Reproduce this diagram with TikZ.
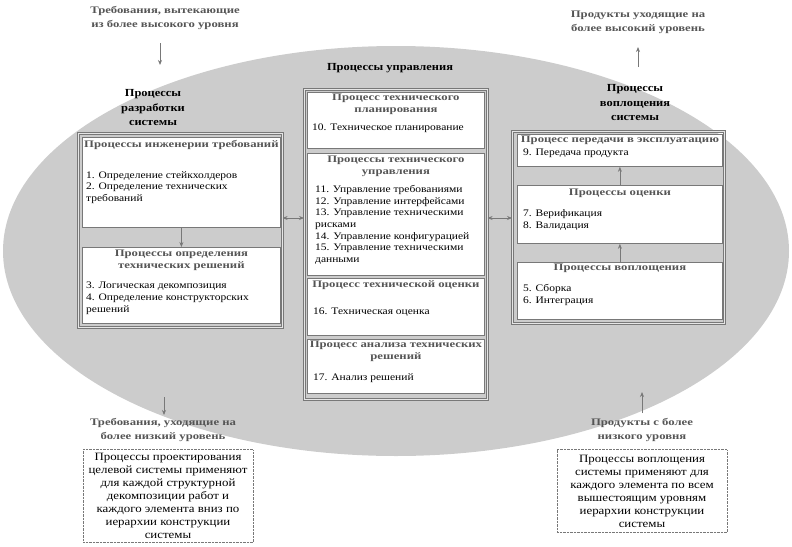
\documentclass[tikz,border=0pt]{standalone}
\usepackage{fontspec}
\setmainfont{Liberation Serif}[FakeStretch=1.15]
\newfontfamily\headfont{Liberation Serif}[FakeStretch=1.27]
\usetikzlibrary{positioning,arrows.meta}
\definecolor{ovalgray}{RGB}{204,204,204}
\definecolor{framegray}{RGB}{120,120,120}
\definecolor{headgray}{RGB}{85,85,85}
\tikzset{
  frame/.style={draw=framegray,double=ovalgray!50!white,double distance=1.2pt,line width=0.6pt,inner sep=0pt,anchor=north west},
  procbox/.style={draw=framegray,fill=white,line width=0.8pt,inner sep=0pt,anchor=north west},
  boxtitle/.style={font=\headfont\bfseries\fontsize{10}{12}\selectfont,text=headgray,align=center,anchor=north,inner sep=1pt},
  boxitems/.style={font=\fontsize{10}{11.7}\selectfont,align=left,anchor=north west,inner sep=0pt},
  grouptitle/.style={font=\bfseries\fontsize{10.8}{14.5}\selectfont,align=center},
  outtext/.style={font=\headfont\bfseries\fontsize{10}{14}\selectfont,text=headgray,align=center},
  notebox/.style={draw=framegray,densely dotted,fill=white,font=\fontsize{11.2}{13}\selectfont,align=center,inner sep=0pt},
  flow/.style={-{Stealth[length=5pt,width=4pt]},framegray,line width=0.8pt},
  twoway/.style={{Stealth[length=5pt,width=4pt]}-{Stealth[length=5pt,width=4pt]},framegray,line width=0.8pt},
}
\begin{document}
\begin{tikzpicture}[x=1pt,y=-1pt]
  \useasboundingbox (0,0) rectangle (792,546);

  % большой овал
  \fill[ovalgray] (396,251) ellipse [x radius=393, y radius=205];

  % входы и выходы сверху
  \node[outtext] (reqin) at (165,18) {Требования, вытекающие\\из более высокого уровня};
  \node[outtext] (prodout) at (638,22) {Продукты уходящие на\\более высокий уровень};
  \coordinate (reqin-end) at (160,65);
  \coordinate (prodout-end) at (638,47);
  \draw[flow] (reqin-end |- 0,43) -- (reqin-end);
  \draw[flow] (prodout-end |- 0,67) -- (prodout-end);

  % заголовки групп
  \node[grouptitle] (devtitle) at (153,108) {Процессы\\разработки\\системы};
  \node[grouptitle] (ctrtitle) at (390,68) {Процессы управления};
  \node[grouptitle] (impltitle) at (635,103) {Процессы\\воплощения\\системы};

  % процессы разработки
  \node[frame,minimum width=204,minimum height=194] (devframe) at (78,133) {};
  \node[procbox,minimum width=198,minimum height=90] (req) at (82,137) {};
  \node[procbox,minimum width=198,minimum height=76] (sol) at (82,247) {};
  \node[boxtitle] (reqhead) at ([yshift=-2pt]req.north) {Процессы инженерии требований};
  \node[boxitems] (reqlist) at ([xshift=4pt,yshift=-34pt]req.north west)
    {1. Определение стейкхолдеров\\2. Определение технических\\требований};
  \node[boxtitle] (solhead) at ([yshift=-2pt]sol.north) {Процессы определения\\технических решений};
  \node[boxitems] (sollist) at ([xshift=4pt,yshift=-35pt]sol.north west)
    {3. Логическая декомпозиция\\4. Определение конструкторских\\решений};
  \draw[flow] (req.south) -- (sol.north);

  % процессы управления
  \node[frame,minimum width=183,minimum height=310] (ctrframe) at (304,89) {};
  \node[procbox,minimum width=177,minimum height=56] (plan) at (307,92) {};
  \node[procbox,minimum width=177,minimum height=122] (mgmt) at (307,153) {};
  \node[procbox,minimum width=177,minimum height=57] (eval) at (307,278) {};
  \node[procbox,minimum width=177,minimum height=54] (anal) at (307,339) {};
  \node[boxtitle] (planhead) at ([yshift=-1pt]plan.north) {Процесс технического\\планирования};
  \node[boxitems] (planlist) at ([xshift=5pt,yshift=-32pt]plan.north west) {10. Техническое планирование};
  \node[boxtitle] (mgmthead) at ([yshift=-2pt]mgmt.north) {Процессы технического\\управления};
  \node[boxitems] (mgmtlist) at ([xshift=8pt,yshift=-32pt]mgmt.north west)
    {11. Управление требованиями\\12. Управление интерфейсами\\13. Управление техническими\\рисками\\14. Управление конфигурацией\\15. Управление техническими\\данными};
  \node[boxtitle] (evalhead) at ([yshift=-1pt]eval.north) {Процесс технической оценки};
  \node[boxitems] (evallist) at ([xshift=6pt,yshift=-30pt]eval.north west) {16. Техническая оценка};
  \node[boxtitle] (analhead) at ([yshift=-1pt]anal.north) {Процесс анализа технических\\решений};
  \node[boxitems] (anallist) at ([xshift=6pt,yshift=-34pt]anal.north west) {17. Анализ решений};

  % процессы воплощения
  \node[frame,minimum width=212,minimum height=192] (implframe) at (512,131) {};
  \node[procbox,minimum width=205,minimum height=32] (trans) at (517,134) {};
  \node[procbox,minimum width=205,minimum height=58] (verif) at (517,185) {};
  \node[procbox,minimum width=205,minimum height=57] (impl) at (517,262) {};
  \node[boxtitle] (transhead) at ([yshift=-1pt]trans.north) {Процесс передачи в эксплуатацию};
  \node[boxitems] (translist) at ([xshift=6pt,yshift=-15pt]trans.north west) {9. Передача продукта};
  \node[boxtitle] (verifhead) at ([yshift=-3pt]verif.north) {Процессы оценки};
  \node[boxitems,font=\fontsize{10}{12.5}\selectfont] (veriflist) at ([xshift=6pt,yshift=-24pt]verif.north west)
    {7. Верификация\\8. Валидация};
  \node[boxtitle] (implhead) at ([yshift=-1pt]impl.north) {Процессы воплощения};
  \node[boxitems,font=\fontsize{10}{12.5}\selectfont] (impllist) at ([xshift=6pt,yshift=-22pt]impl.north west)
    {5. Сборка\\6. Интеграция};
  \draw[flow] (verif.north) -- (trans.south);
  \draw[flow] (impl.north) -- (verif.south);

  % связи между группами
  \coordinate (link) at (0,218);
  \draw[twoway] (devframe.east |- link) -- (ctrframe.west |- link);
  \draw[twoway] (ctrframe.east |- link) -- (implframe.west |- link);

  % выходы снизу
  \node[outtext] (reqdown) at (163,430) {Требования, уходящие на\\более низкий уровень};
  \node[outtext] (produp) at (642,430) {Продукты с более\\низкого уровня};
  \coordinate (reqdown-end) at (164,415);
  \coordinate (produp-end) at (642,392);
  \draw[flow] (reqdown-end |- 0,397) -- (reqdown-end);
  \draw[flow] (produp-end |- 0,413) -- (produp-end);

  \node[notebox,minimum width=170,minimum height=93] (designnote) at (168,496)
    {Процессы проектирования\\целевой системы применяют\\для каждой структурной\\декомпозиции работ и\\каждого элемента вниз по\\иерархии конструкции\\системы};
  \node[notebox,minimum width=170,minimum height=83] (implnote) at (642,491)
    {Процессы воплощения\\системы применяют для\\каждого элемента по всем\\вышестоящим уровням\\иерархии конструкции\\системы};
\end{tikzpicture}
\end{document}
